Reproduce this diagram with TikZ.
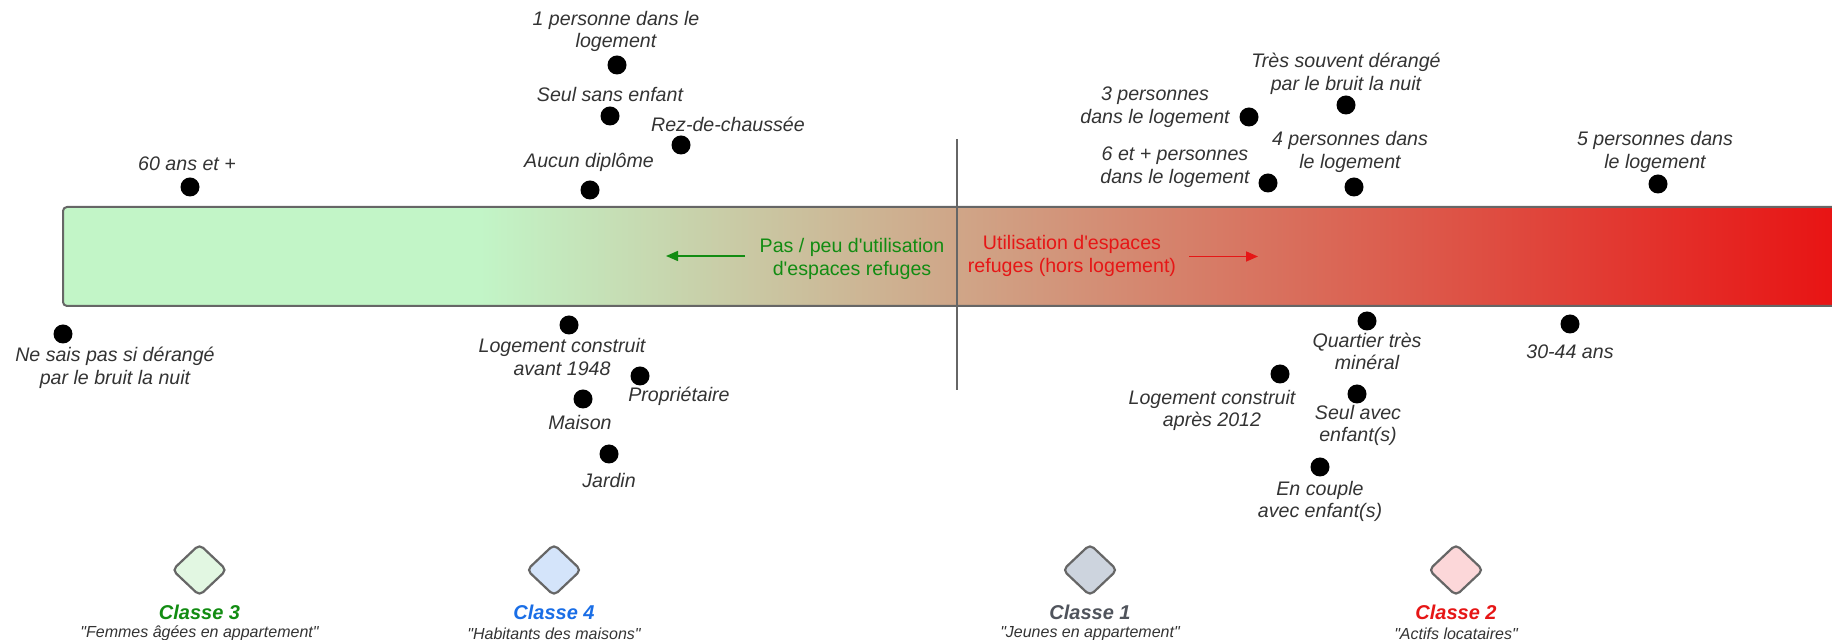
\documentclass[tikz,border=0pt]{standalone}
\usepackage{fontspec}
\setmainfont{Liberation Sans}
\usetikzlibrary{shapes.geometric,arrows.meta}
\definecolor{barGreen}{RGB}{194,245,199}
\definecolor{barRed}{RGB}{232,20,20}
\definecolor{edgeGray}{RGB}{102,102,102}
\definecolor{labelGray}{RGB}{51,51,51}
\definecolor{txtGreen}{RGB}{18,140,18}
\definecolor{txtRed}{RGB}{230,22,22}
\definecolor{txtBlue}{RGB}{26,110,230}
\definecolor{txtGray}{RGB}{80,84,92}
\definecolor{fillC3}{RGB}{226,247,226}
\definecolor{fillC4}{RGB}{212,228,250}
\definecolor{fillC1}{RGB}{205,212,222}
\definecolor{fillC2}{RGB}{252,215,217}
\begin{document}
\begin{tikzpicture}[x=0.5pt,y=-0.5pt,
  lbl/.style={font=\itshape\fontsize{9.8}{11.35}\selectfont, text=labelGray, align=center, inner sep=0pt},
  dot/.style={circle, fill=black, minimum size=9.5pt, inner sep=0pt},
  bartxt/.style={font=\fontsize{9.8}{11.35}\selectfont, align=center, inner sep=0pt},
  classdia/.style={diamond, draw=edgeGray, line width=1.1pt, rounded corners=2.5pt, minimum width=27.5pt, minimum height=26pt, inner sep=0pt},
  classname/.style={font=\bfseries\itshape\fontsize{10}{12}\selectfont, inner sep=0pt},
  classsub/.style={font=\itshape\fontsize{8}{9.5}\selectfont, text=labelGray, inner sep=0pt},
  barline/.style={draw=edgeGray, line width=1pt},
  garrow/.style={draw=txtGreen, line width=0.8pt, -{Triangle[length=6pt,width=5pt]}},
  rarrow/.style={draw=txtRed, line width=0.8pt, -{Triangle[length=6pt,width=5pt]}}]
\useasboundingbox (0,0) rectangle (1832,640);
% bar
\begin{scope}
  \clip (0,0) rectangle (1832,640);
  \fill[barGreen, rounded corners=2pt] (63,207) rectangle (1870,306);
  \shade[left color=barGreen, right color=barRed] (480,208) rectangle (1833,305);
  \draw[barline, rounded corners=2pt] (63,207) rectangle (1870,306);
\end{scope}
% divider
\coordinate (divT) at (957,139);
\coordinate (divB) at (957,390);
\draw[barline] (divT) -- (divB);
% bar texts and arrows
\node[bartxt, text=txtGreen] (tGreen) at (852,259) {Pas / peu d\textquotesingle utilisation\\d\textquotesingle espaces refuges};
\node[bartxt, text=txtRed] (tRed) at (1072,256) {Utilisation d\textquotesingle espaces\\refuges (hors logement)};
\coordinate (gA) at (745,256);
\coordinate (gB) at (666,256);
\draw[garrow] (gA) -- (gB);
\coordinate (rA) at (1189,256.5);
\coordinate (rB) at (1258,256.5);
\draw[rarrow] (rA) -- (rB);
% labels and dots above bar
\node[lbl] (l1) at (616,31.5) {1 personne dans le\\logement};
\node[dot] (d1) at (617,65) {};
\node[lbl] (l2) at (610,95) {Seul sans enfant};
\node[dot] (d2) at (610,116) {};
\node[lbl] (l3) at (728,124) {Rez-de-chaussée};
\node[dot] (d3) at (681,145) {};
\node[lbl] (l4) at (589,162) {Aucun diplôme};
\node[dot] (d4) at (590,190) {};
\node[lbl] (l5) at (187,164) {60 ans et +};
\node[dot] (d5) at (190,187) {};
\node[lbl] (l6) at (1346,74) {Très souvent dérangé\\par le bruit la nuit};
\node[dot] (d6) at (1346,105) {};
\node[lbl] (l7) at (1155,107) {3 personnes\\dans le logement};
\node[dot] (d7) at (1249,117) {};
\node[lbl] (l8) at (1175,167) {6 et + personnes\\dans le logement};
\node[dot] (d8) at (1268,183) {};
\node[lbl] (l9) at (1350,152) {4 personnes dans\\le logement};
\node[dot] (d9) at (1354,187) {};
\node[lbl] (l10) at (1655,152) {5 personnes dans\\le logement};
\node[dot] (d10) at (1658,184) {};
% labels and dots below bar
\node[lbl] (l11) at (115,368) {Ne sais pas si dérangé\\par le bruit la nuit};
\node[dot] (d11) at (63,334) {};
\node[lbl] (l12) at (562,357) {Logement construit\\avant 1948};
\node[dot] (d12) at (569,325) {};
\node[lbl] (l13) at (679,396) {Propriétaire};
\node[dot] (d13) at (640,376) {};
\node[lbl] (l14) at (580,422) {Maison};
\node[dot] (d14) at (583,399) {};
\node[lbl] (l15) at (609,481) {Jardin};
\node[dot] (d15) at (609,454) {};
\node[lbl] (l16) at (1367,351.5) {Quartier très\\minéral};
\node[dot] (d16) at (1367,321) {};
\node[lbl] (l17) at (1570,352) {30-44 ans};
\node[dot] (d17) at (1570,324) {};
\node[lbl] (l18) at (1212,410.5) {Logement construit\\après 2012};
\node[dot] (d18) at (1280,374) {};
\node[lbl] (l19) at (1358,425.5) {Seul avec\\enfant(s)};
\node[dot] (d19) at (1357,394) {};
\node[lbl] (l20) at (1320,501.5) {En couple\\avec enfant(s)};
\node[dot] (d20) at (1320,467) {};
% classes
\node[classdia, fill=fillC3] (c3) at (199.5,570) {};
\node[classname, text=txtGreen] (c3n) at (199.5,612) {Classe 3};
\node[classsub] (c3s) at (199.5,633.5) {\textquotedbl Femmes âgées en appartement\textquotedbl};
\node[classdia, fill=fillC4] (c4) at (554,570) {};
\node[classname, text=txtBlue] (c4n) at (554,612) {Classe 4};
\node[classsub] (c4s) at (554,633.5) {\textquotedbl Habitants des maisons\textquotedbl};
\node[classdia, fill=fillC1] (c1) at (1090,570) {};
\node[classname, text=txtGray] (c1n) at (1090,612) {Classe 1};
\node[classsub] (c1s) at (1090,633.5) {\textquotedbl Jeunes en appartement\textquotedbl};
\node[classdia, fill=fillC2] (c2) at (1456,570) {};
\node[classname, text=txtRed] (c2n) at (1456,612) {Classe 2};
\node[classsub] (c2s) at (1456,633.5) {\textquotedbl Actifs locataires\textquotedbl};
\end{tikzpicture}
\end{document}
